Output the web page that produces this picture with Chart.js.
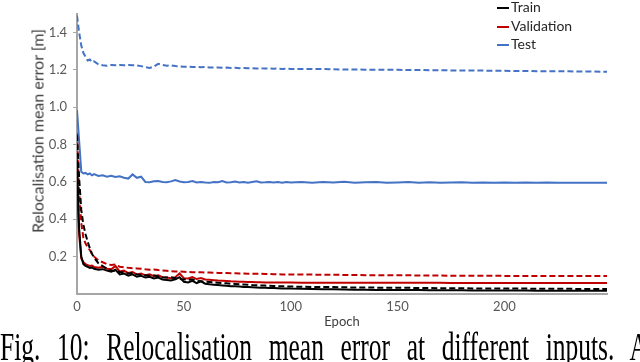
<!DOCTYPE html>
<html>
<head>
<meta charset="utf-8">
<script src="https://cdn.jsdelivr.net/npm/chart.js@4"></script>
<style>
  body { margin: 0; width: 640px; height: 362px; overflow: hidden; background: #fff; position: relative; }
  #wrap { position: absolute; left: 0; top: 0; width: 640px; height: 330px; }
  #ytitle { position: absolute; left: 37px; top: 131px; transform: translate(-50%, -50%) rotate(-90deg);
            white-space: nowrap; font: 16px Lato, sans-serif; color: #404040; }
  #legend { position: absolute; left: 497px; top: -2px; font: 14px Lato, sans-serif; color: #262626; }
  .leg { position: absolute; left: 0; white-space: nowrap; height: 18px; line-height: 18px; }
  .leg span.ln { display: inline-block; width: 12px; height: 2px; vertical-align: middle; margin-right: 2px; }
  #caption { position: absolute; left: 0; top: 323px; width: 648px; font: 25.5px "Liberation Serif", serif;
             color: #000; white-space: nowrap; text-align: justify; text-align-last: justify;
             transform-origin: 0 0; transform: scaleY(1.6); }
</style>
</head>
<body>
<div id="wrap"><canvas id="myChart" width="640" height="330"></canvas></div>
<div id="ytitle">Relocalisation mean error [m]</div>
<div id="legend"></div>
<div id="caption">Fig. 10: Relocalisation mean error at different inputs. A</div>
<script>
var epochs = [0,1,2,3,4,5,6,7,8,
  10,12,14,16,18,20,22,24,26,28,30,32,34,36,38,40,42,44,46,48,50,52,54,56,58,60,62,64,66,68,70,72,74,76,78,80,82,84,86,88,90,92,94,96,98,100,
  105,110,115,120,125,130,135,140,145,150,155,160,165,170,175,180,185,190,195,200,205,210,215,220,225,230,235,240,245,248];

var trainSolid = [0.72,0.35,0.20,0.16,0.15,0.145,0.14,0.142,0.135,
  0.130,0.133,0.125,0.120,0.130,0.105,0.110,0.098,0.105,0.092,
  0.097,0.088,0.092,0.083,0.088,0.078,0.075,0.072,0.078,0.090,
  0.065,0.062,0.070,0.058,0.068,0.055,0.052,0.050,0.048,0.046,
  0.044,0.042,0.041,0.040,0.038,0.037,0.036,0.035,0.034,0.033,
  0.032,0.032,0.031,0.030,0.030,0.029,
  0.028,0.027,0.026,0.025,0.024,0.023,0.023,0.022,0.022,0.021,
  0.021,0.021,0.020,0.020,0.020,0.020,0.019,0.019,0.019,0.019,
  0.019,0.019,0.018,0.018,0.018,0.018,0.018,0.018,0.018,0.018];

var trainDash = [0.85,0.62,0.45,0.37,0.32,0.28,0.245,0.215,0.195,
  0.165,0.150,0.135,0.125,0.122,0.118,0.115,0.110,0.112,0.105,
  0.102,0.100,0.098,0.100,0.094,0.090,0.088,0.090,0.084,0.080,
  0.078,0.076,0.078,0.070,0.068,0.066,0.064,0.062,0.060,0.058,
  0.057,0.055,0.054,0.052,0.051,0.050,0.048,0.047,0.046,0.045,
  0.044,0.043,0.042,0.042,0.041,0.040,
  0.039,0.038,0.037,0.037,0.036,0.035,0.035,0.034,0.034,0.033,
  0.033,0.032,0.032,0.031,0.031,0.031,0.030,0.030,0.030,0.029,
  0.029,0.029,0.028,0.028,0.028,0.028,0.027,0.027,0.027,0.027];

var valSolid = [0.57,0.32,0.19,0.17,0.16,0.155,0.15,0.152,0.145,
  0.140,0.145,0.135,0.132,0.150,0.120,0.125,0.112,0.118,0.105,
  0.110,0.100,0.105,0.095,0.100,0.090,0.088,0.085,0.090,0.110,
  0.085,0.083,0.090,0.080,0.085,0.078,0.076,0.074,0.072,0.071,
  0.070,0.068,0.067,0.066,0.065,0.064,0.064,0.063,0.063,0.062,
  0.062,0.062,0.061,0.061,0.061,0.061,
  0.060,0.060,0.060,0.060,0.060,0.060,0.060,0.060,0.060,0.060,
  0.060,0.060,0.060,0.060,0.059,0.059,0.059,0.059,0.059,0.059,
  0.059,0.059,0.059,0.059,0.059,0.059,0.059,0.059,0.059,0.059];

var valDash = [0.86,0.56,0.38,0.30,0.27,0.25,0.235,0.215,0.20,
  0.180,0.170,0.160,0.155,0.158,0.146,0.143,0.140,0.138,0.137,
  0.135,0.132,0.130,0.131,0.128,0.126,0.124,0.122,0.121,0.120,
  0.119,0.118,0.117,0.117,0.116,0.115,0.115,0.114,0.113,0.113,
  0.112,0.111,0.111,0.110,0.110,0.109,0.109,0.108,0.108,0.107,
  0.107,0.106,0.106,0.105,0.105,0.105,
  0.104,0.104,0.103,0.103,0.102,0.102,0.101,0.101,0.100,0.100,
  0.100,0.099,0.099,0.099,0.098,0.098,0.098,0.098,0.098,0.097,
  0.097,0.097,0.097,0.097,0.097,0.097,0.097,0.097,0.097,0.097];

var testSolid = [0.985,0.82,0.655,0.645,0.648,0.64,0.645,0.635,0.642,
  0.632,0.636,0.628,0.633,0.626,0.630,0.622,0.618,0.640,0.622,
  0.628,0.600,0.598,0.603,0.605,0.600,0.598,0.603,0.610,0.602,
  0.598,0.600,0.605,0.597,0.600,0.597,0.595,0.600,0.598,0.605,
  0.597,0.598,0.602,0.597,0.600,0.596,0.600,0.604,0.597,0.598,
  0.600,0.597,0.599,0.596,0.600,0.597,
  0.599,0.596,0.600,0.597,0.601,0.596,0.598,0.600,0.596,0.597,
  0.599,0.596,0.598,0.596,0.597,0.598,0.596,0.597,0.596,0.597,
  0.596,0.597,0.595,0.597,0.596,0.595,0.596,0.595,0.595,0.595];

var testDash = [1.49,1.40,1.33,1.29,1.27,1.25,1.255,1.24,1.245,
  1.230,1.225,1.222,1.226,1.224,1.226,1.224,1.226,1.225,1.224,
  1.220,1.214,1.210,1.218,1.232,1.226,1.222,1.224,1.220,1.218,
  1.216,1.217,1.215,1.216,1.214,1.215,1.213,1.212,1.213,1.211,
  1.212,1.210,1.211,1.209,1.210,1.208,1.209,1.207,1.208,1.207,
  1.207,1.206,1.207,1.205,1.206,1.205,
  1.205,1.204,1.204,1.203,1.202,1.202,1.201,1.201,1.200,1.200,
  1.199,1.199,1.198,1.198,1.197,1.197,1.196,1.196,1.195,1.195,
  1.194,1.194,1.193,1.193,1.192,1.192,1.191,1.191,1.190,1.190];

var yTicks = [0.2,0.4,0.6,0.8,1.0,1.2,1.4];
var xTicks = [0,50,100,150,200];

const BLACK = "#000000", RED = "#c00000", BLUE = "#4472c4", AXIS = "#a6a6a6";

function pts(vals){
    return epochs.map((e, i) => ({x: e, y: vals[i]}));
}

function ds(label, vals, color, dashed){
    return {
        label: label,
        data: pts(vals),
        borderColor: color,
        borderWidth: 2,
        borderDash: dashed ? [6, 3] : [],
        pointRadius: 0,
        tension: 0,
        fill: false,
        showInLegend: !dashed
    };
}

var datasets = [
    ds("Train", trainSolid, BLACK, false),
    ds("Train", trainDash, BLACK, true),
    ds("Validation", valSolid, RED, false),
    ds("Validation", valDash, RED, true),
    ds("Test", testSolid, BLUE, false),
    ds("Test", testDash, BLUE, true)
];

const ctx = document.getElementById("myChart");
var _chart = new Chart(ctx, {
    type: "line",
    data: { datasets: datasets },
    options: {
        responsive: false,
        animation: false,
        layout: { padding: { top: 1, right: 33, left: 0, bottom: 0 } },
        plugins: { legend: { display: false }, tooltip: { enabled: false } },
        scales: {
            x: {
                type: "linear", min: 0, max: 248,
                afterFit: s => { s.height = 36; },
                afterBuildTicks: s => { s.ticks = xTicks.map(v => ({value: v})); },
                ticks: { font: { family: "Lato", size: 13 }, color: "#595959", padding: 5, maxRotation: 0 },
                grid: { display: true, drawOnChartArea: false, drawTicks: false },
                border: { color: AXIS, width: 2 },
                title: { display: true, text: "Epoch", font: { family: "Lato", size: 13 }, color: "#404040", padding: 0 }
            },
            y: {
                min: 0, max: 1.5,
                afterFit: s => { s.width = 77; },
                afterBuildTicks: s => { s.ticks = yTicks.map(v => ({value: v})); },
                ticks: { font: { family: "Lato", size: 13 }, color: "#595959", padding: 6,
                         callback: v => v.toFixed(1) },
                grid: { display: true, drawOnChartArea: false, drawTicks: true, tickLength: 4, color: AXIS },
                border: { color: AXIS, width: 2 }
            }
        }
    }
});

// legend only for the solid lines
function build_legend(){
    var elem = document.getElementById("legend");
    var s = "";
    var top = 0;
    datasets.forEach(d => {
        if(!d.showInLegend) return;
        s += `<div class="leg" style="top:${top}px"><span class="ln" style="background:${d.borderColor}"></span>${d.label}</div>`;
        top += 18.5;
    });
    elem.innerHTML = s;
}
build_legend();
</script>
</body>
</html>
